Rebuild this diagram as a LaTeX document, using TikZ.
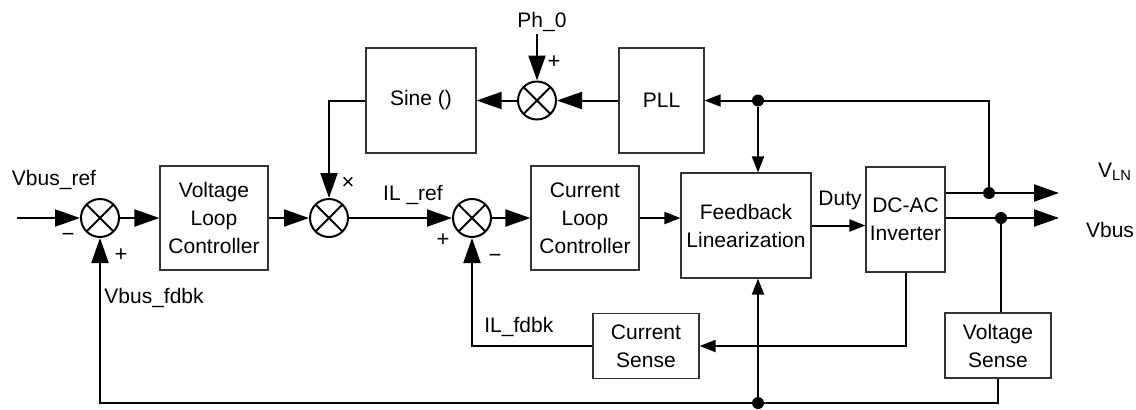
\documentclass[tikz,border=0pt]{standalone}
\usepackage{fontspec}
\setmainfont{Liberation Sans}
\usetikzlibrary{arrows.meta,positioning,calc}
\tikzset{
  % 方框
  blk/.style={
    draw=black!80,
    line width=0.6pt,
    align=center,
    inner sep=0pt,
    font=\fontsize{10.5}{14}\selectfont
  },
  % 求和点
  sumj/.style={
    draw, circle,
    line width=1pt,
    minimum size=19pt,
    inner sep=0pt,
    path picture={\draw[line width=1pt]
      (path picture bounding box.north west) -- (path picture bounding box.south east)
      (path picture bounding box.north east) -- (path picture bounding box.south west);}
  },
  % 连接点
  jdot/.style={circle, fill, minimum size=6pt, inner sep=0pt},
  % 信号线与箭头
  sig/.style={line width=1pt},
  arrbig/.style={sig, -{Triangle[length=12.5pt,width=8.5pt]}},
  arrsml/.style={sig, -{Triangle[length=8pt,width=6pt]}},
  lab/.style={font=\fontsize{10.5}{12}\selectfont, inner sep=1pt},
  sgn/.style={font=\fontsize{11}{12}\selectfont, inner sep=0pt},
}

\begin{document}
\begin{tikzpicture}[x=0.5pt,y=-0.5pt]
        \useasboundingbox (0,0) rectangle (1136,409);

        % Blocks
        \node[blk, minimum width=54pt, minimum height=52pt] (vlc) at (214,218) {Voltage\\Loop\\Controller};
        \node[blk, minimum width=55pt, minimum height=52.5pt] (sine) at (421,100.5) {Sine ()};
        \node[blk, minimum width=42.5pt, minimum height=52.5pt] (pll) at (661.5,100.5) {PLL};
        \node[blk, minimum width=54pt, minimum height=52pt] (clc) at (585,218) {Current\\Loop\\Controller};
        \node[blk, minimum width=65pt, minimum height=52.5pt] (fl) at (746,225.5) {Feedback\\Linearization};
        \node[blk, minimum width=39.5pt, minimum height=52.5pt] (inv) at (905.5,219.5) {DC-AC\\Inverter};
        \node[blk, minimum width=53pt, minimum height=32.5pt] (csense) at (646,346) {Current\\Sense};
        \node[blk, minimum width=53pt, minimum height=32.5pt] (vsense) at (998,345.5) {Voltage\\Sense};

        % Summing junctions
        \node[sumj] (s1) at (100,218) {};
        \node[sumj] (s2) at (329,218) {};
        \node[sumj] (s3) at (472,218) {};
        \node[sumj] (s4) at (537,100.5) {};

        % Junction dots
        \node[jdot] (d1) at (758,100.5) {};
        \node[jdot] (d2) at (989,193) {};
        \node[jdot] (d3) at (1001,218) {};
        \node[jdot] (d4) at (758,403) {};

        % Labels
        \node[lab] (vbusref) at (54,180) {Vbus\_ref};
        \node[lab, anchor=west] (vbusfb) at (102,298) {Vbus\_fdbk};
        \node[sgn] (s1m) at (68,237) {−};
        \node[sgn] (s1p) at (121,255) {+};
        \node[sgn] (s2x) at (348,183) {×};
        \node[lab] (ilref) at (413,195) {IL \_ref};
        \node[sgn] (s3p) at (443,240) {+};
        \node[sgn] (s3m) at (495,258) {−};
        \node[lab, anchor=west] (ilfb) at (482,327) {IL\_fdbk};
        \node[lab] (ph0) at (542,22) {Ph\_0};
        \node[sgn] (s4p) at (554,62) {+};
        \node[lab] (duty) at (840,200) {Duty};
        \node[lab] (vlnlab) at (1115,172) {V\textsubscript{LN}};
        \node[lab] (vbuslab) at (1110,230) {Vbus};

        % Free ends
        \coordinate (in) at (17,218);
        \coordinate (vln) at (1059,193);
        \coordinate (vbo) at (1059,218);

        % Forward path
        \draw[arrbig] (in) -- (s1);
        \draw[arrbig] (s1) -- (vlc);
        \draw[arrbig] (vlc) -- (s2);
        \draw[arrbig] (s2) -- (s3);
        \draw[arrbig] (s3) -- (clc);
        \draw[arrsml] (clc.east) -- (clc.east -| fl.west);
        \draw[arrsml] (fl.east) -- (fl.east -| inv.west);

        % Outputs
        \draw[arrbig] (inv.east |- vln) -- (vln);
        \draw[arrbig] (inv.east |- vbo) -- (vbo);

        % Phase path
        \draw[sig] (d2) |- (d1);
        \draw[arrsml] (d1) -- (pll.east);
        \draw[arrsml] (d1) -- (d1 |- fl.north);
        \draw[arrbig] (pll) -- (s4);
        \draw[arrbig] (ph0.south -| s4) -- (s4);
        \draw[arrbig] (s4) -- (sine);
        \draw[arrbig] (sine.west) -| (s2.north);

        % Current feedback
        \draw[arrsml] (inv.south) |- (csense.east);
        \draw[arrbig] (csense.west) -| (s3.south);

        % Voltage feedback
        \draw[sig] (d3) -- (d3 |- vsense.north);
        \draw[sig] (vsense.south) |- (d4);
        \draw[arrbig] (d4) -| (s1.south);
        \draw[arrsml] (d4) -- (d4 |- fl.south);
    \end{tikzpicture}
\end{document}
